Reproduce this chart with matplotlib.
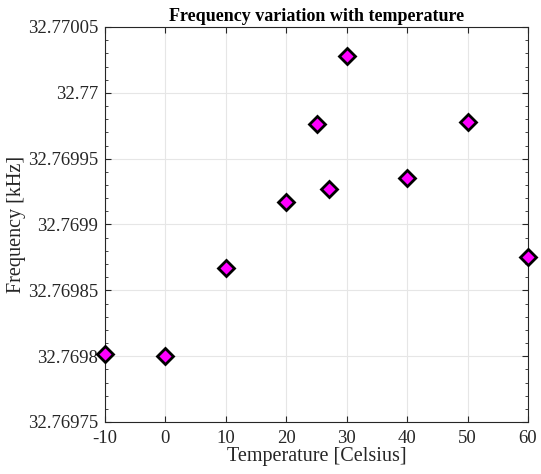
import numpy as np
import matplotlib
matplotlib.use('Agg')
import matplotlib.pyplot as plt
from matplotlib.ticker import MultipleLocator, AutoMinorLocator

# temperature points and measured frequency (kHz)
temps = [-10, 0, 10, 20, 25, 27, 30, 40, 50, 60]
freqs = [32.769802, 32.769800, 32.769867, 32.769917, 32.769976,
         32.769927, 32.770028, 32.769935, 32.769978, 32.769875]

yticks = [32.76975, 32.7698, 32.76985, 32.7699, 32.76995, 32.77, 32.77005]
ytick_labels = ['32.76975', '32.7698', '32.76985', '32.7699', '32.76995', '32.77', '32.77005']

plt.rcParams['font.family'] = ['Liberation Serif', 'DejaVu Serif']
plt.rcParams['axes.unicode_minus'] = False

fig = plt.figure(figsize=(5.41, 4.74), dpi=100)
ax = fig.add_axes([105/541, 1-422/474, (528-105)/541, (422-27)/474])

ax.plot(temps, freqs, linestyle='none', marker='D', markersize=8,
        markerfacecolor='#ff00ff', markeredgecolor='black', markeredgewidth=2,
        clip_on=False, zorder=5)

ax.set_xlim(-10, 60)
ax.set_ylim(32.76975, 32.77005)
ax.xaxis.set_major_locator(MultipleLocator(10))
ax.set_yticks(yticks)
ax.set_yticklabels(ytick_labels)
ax.yaxis.set_minor_locator(AutoMinorLocator(5))

ax.grid(True, which='major', color='#e6e6e6', linewidth=0.8)
ax.set_axisbelow(True)
ax.tick_params(which='both', direction='in', top=True, right=True,
               colors='#262626', labelsize=13.5, labelcolor='#262626')
ax.tick_params(axis='x', which='major', length=4, pad=6)
ax.tick_params(axis='y', which='major', length=4, pad=5)
ax.tick_params(which='minor', length=2)
for s in ax.spines.values():
    s.set_color('#262626')
    s.set_linewidth(0.8)

ax.set_xlabel('Temperature [Celsius]', fontsize=14.5, color='#262626', labelpad=0)
ax.set_ylabel('Frequency [kHz]', fontsize=14.5, color='#262626', labelpad=1)
ax.set_title('Frequency variation with temperature', fontsize=13,
             fontweight='bold', pad=4)

fig.savefig('out.png', dpi=100)
